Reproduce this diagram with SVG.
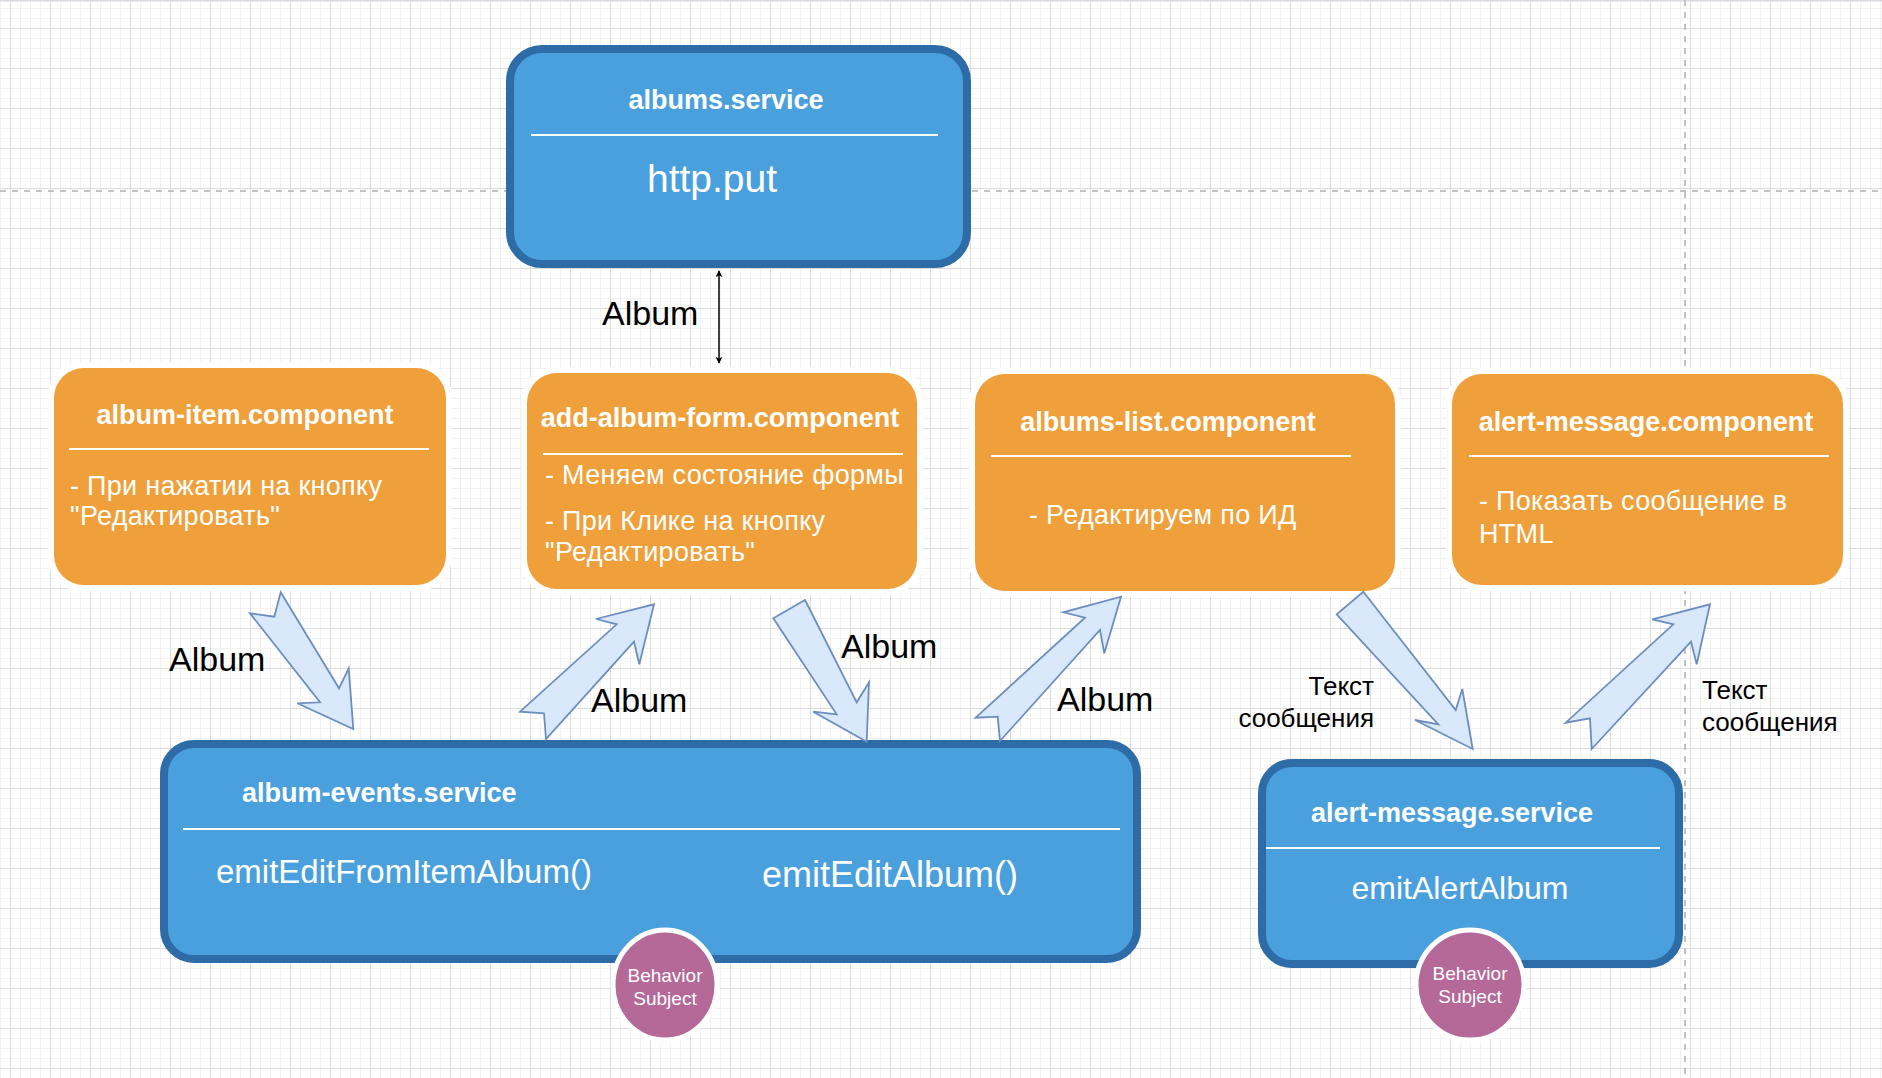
<svg xmlns="http://www.w3.org/2000/svg" width="1882" height="1078" viewBox="0 0 1882 1078">
<style>
.t{font-family:"Liberation Sans",Arial,Helvetica,sans-serif;fill:#fff}
.b{font-weight:bold;font-size:27px}
.body{font-size:27px;letter-spacing:0.3px}
.lbl{font-family:"Liberation Sans",Arial,Helvetica,sans-serif;fill:#000}
.halo{fill:#fff}
.orange{fill:#f0a03a}
.blue{fill:#4aa0dc;stroke:#2d6ca7;stroke-width:8}
.sep{stroke:#fff;stroke-width:2}
.bs{fill:#b46998;stroke:#fff;stroke-width:5}
.barrow{fill:#dae8fc;stroke:#6c8ebf;stroke-width:1.8;stroke-linejoin:miter}
.dash{stroke:#c2c2c2;stroke-width:2;stroke-dasharray:6 6;fill:none}
</style>
<defs>
<pattern id="minor" width="10" height="10" patternUnits="userSpaceOnUse" x="0" y="8">
<path d="M0 0.5H10M0.5 0V10" stroke="#f2f2f2" stroke-width="1" fill="none"/>
</pattern>
<pattern id="major" width="40" height="40" patternUnits="userSpaceOnUse" x="10" y="28">
<path d="M0 0.5H40M0.5 0V40" stroke="#dcdcdc" stroke-width="1" fill="none"/>
</pattern>
<marker id="ah" viewBox="0 0 10 10" refX="9" refY="5" markerWidth="7" markerHeight="7" orient="auto-start-reverse" markerUnits="userSpaceOnUse">
<path d="M0 0L10 5L0 10L3 5Z" fill="#000"/>
</marker>
</defs>

<rect width="1882" height="1078" fill="#fff"/>
<rect width="1882" height="1078" fill="url(#minor)"/>
<rect width="1882" height="1078" fill="url(#major)"/>
<line x1="0" y1="0.5" x2="1882" y2="0.5" stroke="#dadae0" stroke-width="2"/>
<line class="dash" x1="0" y1="191" x2="1882" y2="191"/>
<line class="dash" x1="1685" y1="0" x2="1685" y2="1078"/>

<g id="albums-service">
<rect class="blue" x="510" y="49" width="457" height="215" rx="32"/>
<text class="t b" x="726" y="109" text-anchor="middle">albums.service</text>
<line class="sep" x1="531" y1="135" x2="938" y2="135"/>
<text class="t" x="712" y="192" text-anchor="middle" font-size="39">http.put</text>
</g>

<g id="album-item-component">
<rect class="halo" x="48" y="362" width="404" height="229" rx="34"/>
<rect class="orange" x="54" y="368" width="392" height="217" rx="30"/>
<text class="t b" x="245" y="424" text-anchor="middle">album-item.component</text>
<line class="sep" x1="69" y1="449" x2="429" y2="449"/>
<text class="t body" x="70" y="495">- При нажатии на кнопку</text>
<text class="t body" x="70" y="525">"Редактировать"</text>
</g>

<g id="add-album-form-component">
<rect class="halo" x="521" y="367" width="402" height="228" rx="34"/>
<rect class="orange" x="527" y="373" width="390" height="216" rx="30"/>
<text class="t b" x="720" y="427" text-anchor="middle">add-album-form.component</text>
<line class="sep" x1="543" y1="454" x2="903" y2="454"/>
<text class="t body" x="545" y="484">- Меняем состояние формы</text>
<text class="t body" x="545" y="530">- При Клике на кнопку</text>
<text class="t body" x="545" y="561">"Редактировать"</text>
</g>

<g id="albums-list-component">
<rect class="halo" x="969" y="368" width="432" height="229" rx="34"/>
<rect class="orange" x="975" y="374" width="420" height="217" rx="30"/>
<text class="t b" x="1168" y="431" text-anchor="middle">albums-list.component</text>
<line class="sep" x1="991" y1="456" x2="1351" y2="456"/>
<text class="t body" x="1029" y="524">- Редактируем по ИД</text>
</g>

<g id="alert-message-component">
<rect class="halo" x="1446" y="368" width="403" height="223" rx="34"/>
<rect class="orange" x="1452" y="374" width="391" height="211" rx="30"/>
<text class="t b" x="1646" y="431" text-anchor="middle">alert-message.component</text>
<line class="sep" x1="1469" y1="456" x2="1829" y2="456"/>
<text class="t body" x="1479" y="510">- Показать сообщение в</text>
<text class="t body" x="1479" y="543">HTML</text>
</g>

<g id="album-events-service">
<rect class="blue" x="164" y="744" width="973" height="215" rx="30"/>
<text class="t b" x="242" y="802">album-events.service</text>
<line class="sep" x1="183" y1="829" x2="1120" y2="829"/>
<text class="t" x="216" y="883" font-size="33">emitEditFromItemAlbum()</text>
<text class="t" x="762" y="887" font-size="36">emitEditAlbum()</text>
</g>

<g id="album-events-behavior-subject">
<ellipse class="bs" cx="665" cy="985" rx="52" ry="55"/>
<text class="t" x="665" y="982" text-anchor="middle" font-size="19">Behavior</text>
<text class="t" x="665" y="1005" text-anchor="middle" font-size="19">Subject</text>
</g>

<g id="alert-message-service">
<rect class="blue" x="1262" y="763" width="417" height="201" rx="30"/>
<text class="t b" x="1452" y="822" text-anchor="middle">alert-message.service</text>
<line class="sep" x1="1266" y1="848" x2="1660" y2="848"/>
<text class="t" x="1460" y="899" text-anchor="middle" font-size="32">emitAlertAlbum</text>
</g>

<g id="alert-behavior-subject">
<ellipse class="bs" cx="1470" cy="985" rx="54" ry="55"/>
<text class="t" x="1470" y="980" text-anchor="middle" font-size="19">Behavior</text>
<text class="t" x="1470" y="1003" text-anchor="middle" font-size="19">Subject</text>
</g>

<g id="connectors">
<line x1="719" y1="271" x2="719" y2="363" stroke="#000" stroke-width="1.5" marker-start="url(#ah)" marker-end="url(#ah)"/>
<polygon class="barrow" points="280.7,592.3 339,688.3 348.7,668.3 353.3,729 297.3,703.3 320,702.3 250,613.3 274.3,616.7"/>
<polygon class="barrow" points="546,739 544,713.3 520,711.7 616.7,624.3 596,619 654,604.3 639.3,664.3 634,641.7"/>
<polygon class="barrow" points="805,600 856.7,702.3 869,682.3 866.7,741.7 813.3,711.7 836.7,714.3 773.3,618.3"/>
<polygon class="barrow" points="1000,741 1100,630 1104.3,653.3 1121,596.7 1063.3,612.3 1085,617.7 975.7,717.7 997.7,716.7"/>
<polygon class="barrow" points="1363.3,591.7 1455.7,710 1462.3,689 1472.7,749 1415,720 1438.3,724.3 1336.7,614.3"/>
<polygon class="barrow" points="1591.7,749 1691,641.7 1696.7,664.3 1710,604.3 1652.3,619.3 1673.3,624.3 1565.7,722.7 1590,718.3"/>
<text class="lbl" x="602" y="325" font-size="34">Album</text>
<text class="lbl" x="169" y="671" font-size="34">Album</text>
<text class="lbl" x="591" y="712" font-size="34">Album</text>
<text class="lbl" x="841" y="658" font-size="34">Album</text>
<text class="lbl" x="1057" y="711" font-size="34">Album</text>
<text class="lbl" x="1374" y="695" font-size="26" text-anchor="end">Текст</text>
<text class="lbl" x="1374" y="727" font-size="26" text-anchor="end">сообщения</text>
<text class="lbl" x="1702" y="699" font-size="26">Текст</text>
<text class="lbl" x="1702" y="731" font-size="26">сообщения</text>
</g>
</svg>
